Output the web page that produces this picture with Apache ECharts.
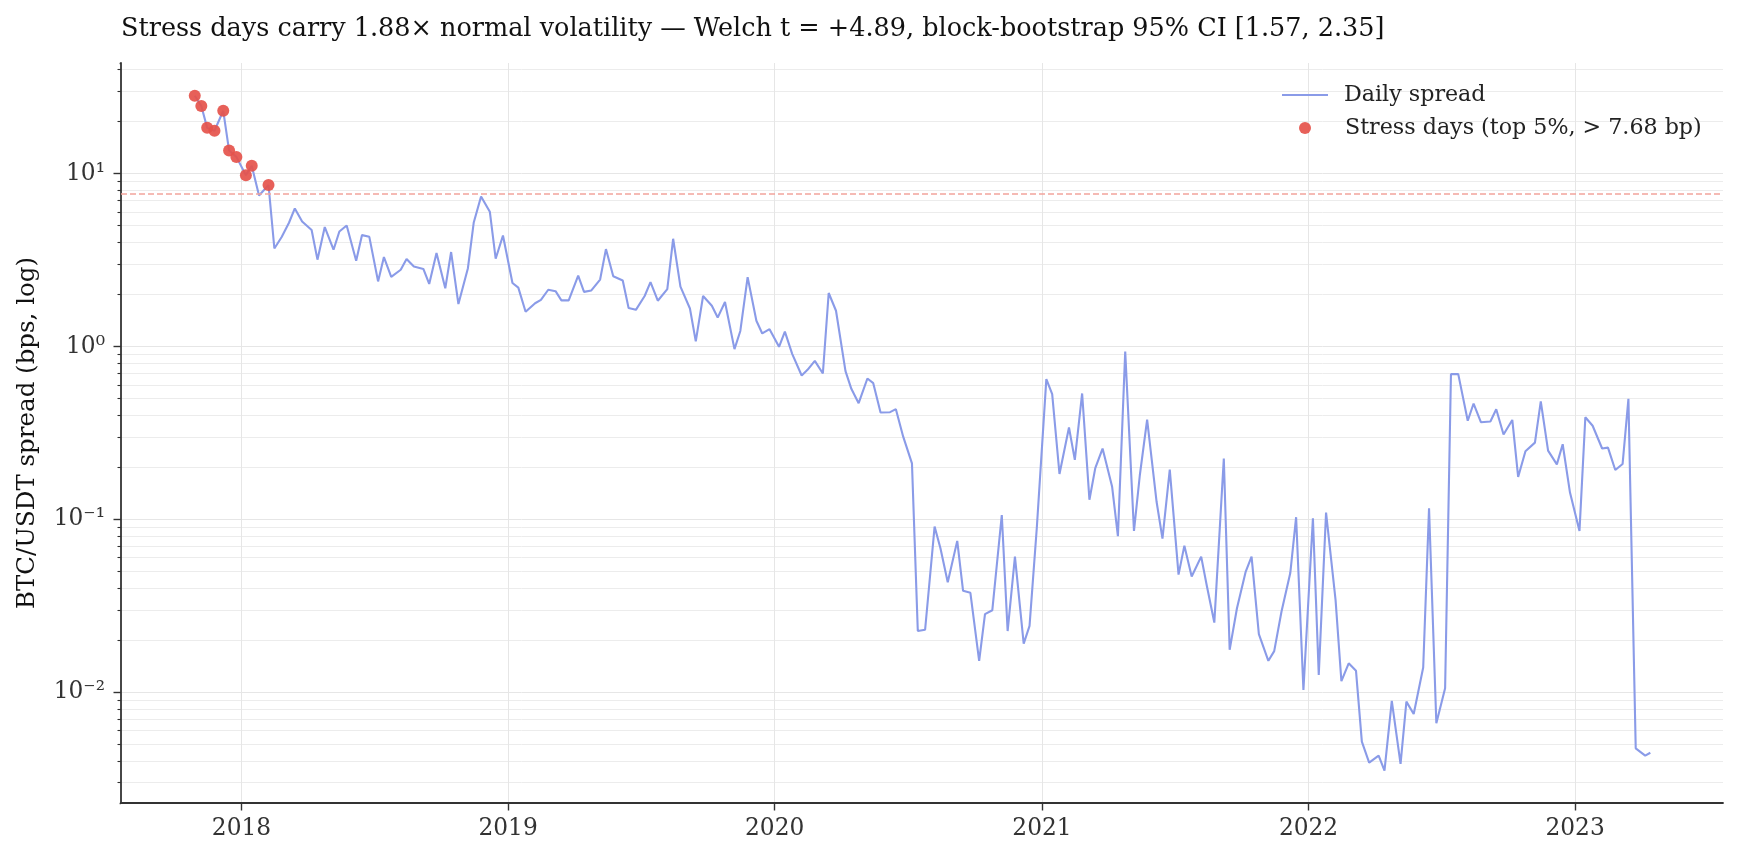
<!DOCTYPE html>
<html>
<head>
<meta charset="utf-8">
<title>BTC/USDT spread</title>
<script src="https://cdn.jsdelivr.net/npm/echarts@6/dist/echarts.min.js"></script>
<style>
  html, body { margin: 0; padding: 0; background: #fff; }
  #chart { width: 1738px; height: 859px; }
</style>
</head>
<body>
<div id="chart"></div>
<script>
// sample dates (roughly 7th / 15th / 25th of each month)
const dates = [
  '2017-10-29', '2017-11-07', '2017-11-15', '2017-11-25', '2017-12-07', '2017-12-15', '2017-12-25',
  '2018-01-07', '2018-01-15', '2018-01-25', '2018-02-07', '2018-02-15', '2018-02-25',
  '2018-03-07', '2018-03-15', '2018-03-25', '2018-04-07', '2018-04-15', '2018-04-25',
  '2018-05-07', '2018-05-15', '2018-05-25', '2018-06-07', '2018-06-15', '2018-06-25',
  '2018-07-07', '2018-07-15', '2018-07-25', '2018-08-07', '2018-08-15', '2018-08-25',
  '2018-09-07', '2018-09-15', '2018-09-25', '2018-10-07', '2018-10-15', '2018-10-25',
  '2018-11-07', '2018-11-15', '2018-11-25', '2018-12-07', '2018-12-15', '2018-12-25',
  '2019-01-07', '2019-01-15', '2019-01-25', '2019-02-07', '2019-02-15', '2019-02-25',
  '2019-03-07', '2019-03-15', '2019-03-25', '2019-04-07', '2019-04-15', '2019-04-25',
  '2019-05-07', '2019-05-15', '2019-05-25', '2019-06-07', '2019-06-15', '2019-06-25',
  '2019-07-07', '2019-07-15', '2019-07-25', '2019-08-07', '2019-08-15', '2019-08-25',
  '2019-09-07', '2019-09-15', '2019-09-25', '2019-10-07', '2019-10-15', '2019-10-25',
  '2019-11-07', '2019-11-15', '2019-11-25', '2019-12-07', '2019-12-15', '2019-12-25',
  '2020-01-07', '2020-01-15', '2020-01-25', '2020-02-07', '2020-02-15', '2020-02-25',
  '2020-03-07', '2020-03-15', '2020-03-25', '2020-04-07', '2020-04-15', '2020-04-25',
  '2020-05-07', '2020-05-15', '2020-05-25', '2020-06-07', '2020-06-15', '2020-06-25',
  '2020-07-07', '2020-07-15', '2020-07-25', '2020-08-07', '2020-08-15', '2020-08-25',
  '2020-09-07', '2020-09-15', '2020-09-25', '2020-10-07', '2020-10-15', '2020-10-25',
  '2020-11-07', '2020-11-15', '2020-11-25', '2020-12-07', '2020-12-15', '2020-12-25',
  '2021-01-07', '2021-01-15', '2021-01-25', '2021-02-07', '2021-02-15', '2021-02-25',
  '2021-03-07', '2021-03-15', '2021-03-25', '2021-04-07', '2021-04-15', '2021-04-25',
  '2021-05-07', '2021-05-15', '2021-05-25', '2021-06-07', '2021-06-15', '2021-06-25',
  '2021-07-07', '2021-07-15', '2021-07-25', '2021-08-07', '2021-08-15', '2021-08-25',
  '2021-09-07', '2021-09-15', '2021-09-25', '2021-10-07', '2021-10-15', '2021-10-25',
  '2021-11-07', '2021-11-15', '2021-11-25', '2021-12-07', '2021-12-15', '2021-12-25',
  '2022-01-07', '2022-01-15', '2022-01-25', '2022-02-07', '2022-02-15', '2022-02-25',
  '2022-03-07', '2022-03-15', '2022-03-25', '2022-04-07', '2022-04-15', '2022-04-25',
  '2022-05-07', '2022-05-15', '2022-05-25', '2022-06-07', '2022-06-15', '2022-06-25',
  '2022-07-07', '2022-07-15', '2022-07-25', '2022-08-07', '2022-08-15', '2022-08-25',
  '2022-09-07', '2022-09-15', '2022-09-25', '2022-10-07', '2022-10-15', '2022-10-25',
  '2022-11-07', '2022-11-15', '2022-11-25', '2022-12-07', '2022-12-15', '2022-12-25',
  '2023-01-07', '2023-01-15', '2023-01-25', '2023-02-07', '2023-02-15', '2023-02-25',
  '2023-03-07', '2023-03-15', '2023-03-25', '2023-04-07', '2023-04-14'
];

// spread in bps, same order as dates
const spread = [
  28.2, 24.6, 18.4, 17.7, 23.1, 13.6, 12.5,
  9.8, 11.1, 7.48, 8.59, 3.69, 4.3,
  5.2, 6.29, 5.29, 4.72, 3.18, 4.91,
  3.63, 4.63, 5.01, 3.13, 4.41, 4.31,
  2.38, 3.29, 2.53, 2.78, 3.21, 2.90,
  2.81, 2.30, 3.47, 2.17, 3.52, 1.76,
  2.84, 5.22, 7.38, 6.02, 3.22, 4.39,
  2.33, 2.19, 1.59, 1.78, 1.86, 2.13,
  2.09, 1.85, 1.85, 2.57, 2.07, 2.11,
  2.44, 3.66, 2.55, 2.41, 1.67, 1.63,
  1.96, 2.36, 1.84, 2.15, 4.20, 2.22,
  1.66, 1.07, 1.96, 1.72, 1.47, 1.81,
  0.966, 1.23, 2.52, 1.41, 1.19, 1.26,
  0.996, 1.22, 0.907, 0.68, 0.733, 0.826,
  0.698, 2.04, 1.61, 0.721, 0.569, 0.47,
  0.653, 0.614, 0.415, 0.417, 0.434, 0.301,
  0.211, 0.0226, 0.0230, 0.0908, 0.0681, 0.0433,
  0.0751, 0.0386, 0.0376, 0.0152, 0.0283, 0.0298,
  0.106, 0.0226, 0.0609, 0.0191, 0.0242, 0.0901,
  0.648, 0.531, 0.183, 0.34, 0.221, 0.535,
  0.130, 0.198, 0.257, 0.155, 0.080, 0.935,
  0.0858, 0.18, 0.378, 0.126, 0.0774, 0.194,
  0.0479, 0.0705, 0.0467, 0.0609, 0.0408, 0.0253,
  0.225, 0.0176, 0.0306, 0.0499, 0.0609, 0.0217,
  0.0152, 0.0173, 0.0293, 0.0489, 0.103, 0.0103,
  0.1016, 0.0126, 0.1095, 0.0342, 0.0116, 0.0147,
  0.0133, 0.00518, 0.00392, 0.0043, 0.00352, 0.00891,
  0.00385, 0.00883, 0.00749, 0.0139, 0.116, 0.00662,
  0.01055, 0.692, 0.692, 0.372, 0.468, 0.365,
  0.368, 0.434, 0.310, 0.376, 0.176, 0.248,
  0.278, 0.481, 0.250, 0.208, 0.272, 0.143,
  0.0858, 0.390, 0.348, 0.257, 0.260, 0.193,
  0.209, 0.498, 0.00474, 0.0043, 0.00447
];

const STRESS_BP = 7.68;
const yearTicks = ['2018-01-01', '2019-01-01', '2020-01-01', '2021-01-01', '2022-01-01', '2023-01-01'];

const FONT = 'DejaVu Serif';
const LINE_COLOR = '#8a9be8';
const DOT_COLOR = '#e5534b';

const lineData = dates.map((d, i) => [d, spread[i]]);
const stressData = lineData.filter(p => p[1] > STRESS_BP);

const SUP = { '-': '\u207b', '0': '\u2070', '1': '\u00b9', '2': '\u00b2', '3': '\u00b3' };
function powLabel(v) {
  const e = Math.log10(v);
  const r = Math.round(e);
  if (Math.abs(e - r) > 1e-6) return '';
  return '10' + String(r).split('').map(c => SUP[c]).join('');
}

const chart = echarts.init(document.getElementById('chart'));
chart.setOption({
  animation: false,
  backgroundColor: '#fff',
  title: {
    text: 'Stress days carry 1.88\u00d7 normal volatility \u2014 Welch t = +4.89, block-bootstrap 95% CI [1.57, 2.35]',
    left: 116,
    top: 11,
    textStyle: { fontFamily: FONT, fontSize: 25.5, fontWeight: 'normal', color: '#111' }
  },
  legend: [
    {
      data: [{ name: 'Daily spread', icon: 'rect' }],
      left: 1277, top: 79,
      itemWidth: 46, itemHeight: 2,
      textStyle: { fontFamily: FONT, fontSize: 22.2, color: '#222', padding: [0, 0, 0, 11] }
    },
    {
      data: [{ name: 'Stress days (top 5%, > 7.68 bp)', icon: 'circle' }],
      left: 1294, top: 112,
      itemWidth: 46, itemHeight: 12,
      textStyle: { fontFamily: FONT, fontSize: 22.2, color: '#222', padding: [0, 0, 0, 12] }
    }
  ],
  grid: { left: 121, right: 15, top: 63, bottom: 56 },
  xAxis: {
    type: 'time',
    min: '2017-07-20',
    max: '2023-07-22 12:00',
    axisLine: { lineStyle: { color: '#333', width: 1.8 } },
    axisTick: { show: true, length: 7.5, customValues: yearTicks, lineStyle: { color: '#333', width: 1.4 } },
    axisLabel: {
      customValues: yearTicks,
      formatter: '{yyyy}',
      fontFamily: FONT, fontSize: 23.3, color: '#333', margin: 14
    },
    splitLine: { show: true, lineStyle: { color: '#e6e6e6', width: 1 } }
  },
  yAxis: {
    type: 'log',
    logBase: 10,
    min: 0.002288,
    max: 43.65,
    name: 'BTC/USDT spread (bps, log)',
    nameLocation: 'middle',
    nameGap: 81,
    nameTextStyle: { fontFamily: FONT, fontSize: 24.5, color: '#111' },
    axisLine: { show: true, lineStyle: { color: '#333', width: 1.8 } },
    axisTick: { show: true, length: 7.5, lineStyle: { color: '#333', width: 1.4 } },
    minorTick: { show: true, splitNumber: 9, length: 3.5, lineStyle: { color: '#333', width: 1.1 } },
    splitLine: { show: true, showMinLine: false, showMaxLine: false, lineStyle: { color: '#e6e6e6', width: 1 } },
    minorSplitLine: { show: true, lineStyle: { color: '#ececec', width: 1 } },
    axisLabel: {
      formatter: powLabel,
      showMinLabel: false,
      showMaxLabel: false,
      fontFamily: FONT, fontSize: 23.3, color: '#333', margin: 16
    }
  },
  // hide the extra ticks the log axis puts at its two clipped ends
  graphic: [
    { type: 'rect', shape: { x: 108, y: 60.5, width: 11.6, height: 5 }, style: { fill: '#fff' }, z: 100 },
    { type: 'rect', shape: { x: 108, y: 800.5, width: 11.6, height: 5 }, style: { fill: '#fff' }, z: 100 }
  ],
  series: [
    {
      name: 'Daily spread',
      type: 'line',
      data: lineData,
      symbol: 'none',
      itemStyle: { color: LINE_COLOR },
      lineStyle: { color: LINE_COLOR, width: 2.1 },
      z: 2,
      markLine: {
        silent: true,
        symbol: 'none',
        label: { show: false },
        lineStyle: { color: '#f2a49c', type: [6, 3], width: 1.5 },
        data: [{ yAxis: STRESS_BP }]
      }
    },
    {
      name: 'Stress days (top 5%, > 7.68 bp)',
      type: 'scatter',
      data: stressData,
      symbolSize: 12,
      itemStyle: { color: DOT_COLOR, opacity: 0.92 },
      z: 3
    }
  ]
});
</script>
</body>
</html>
